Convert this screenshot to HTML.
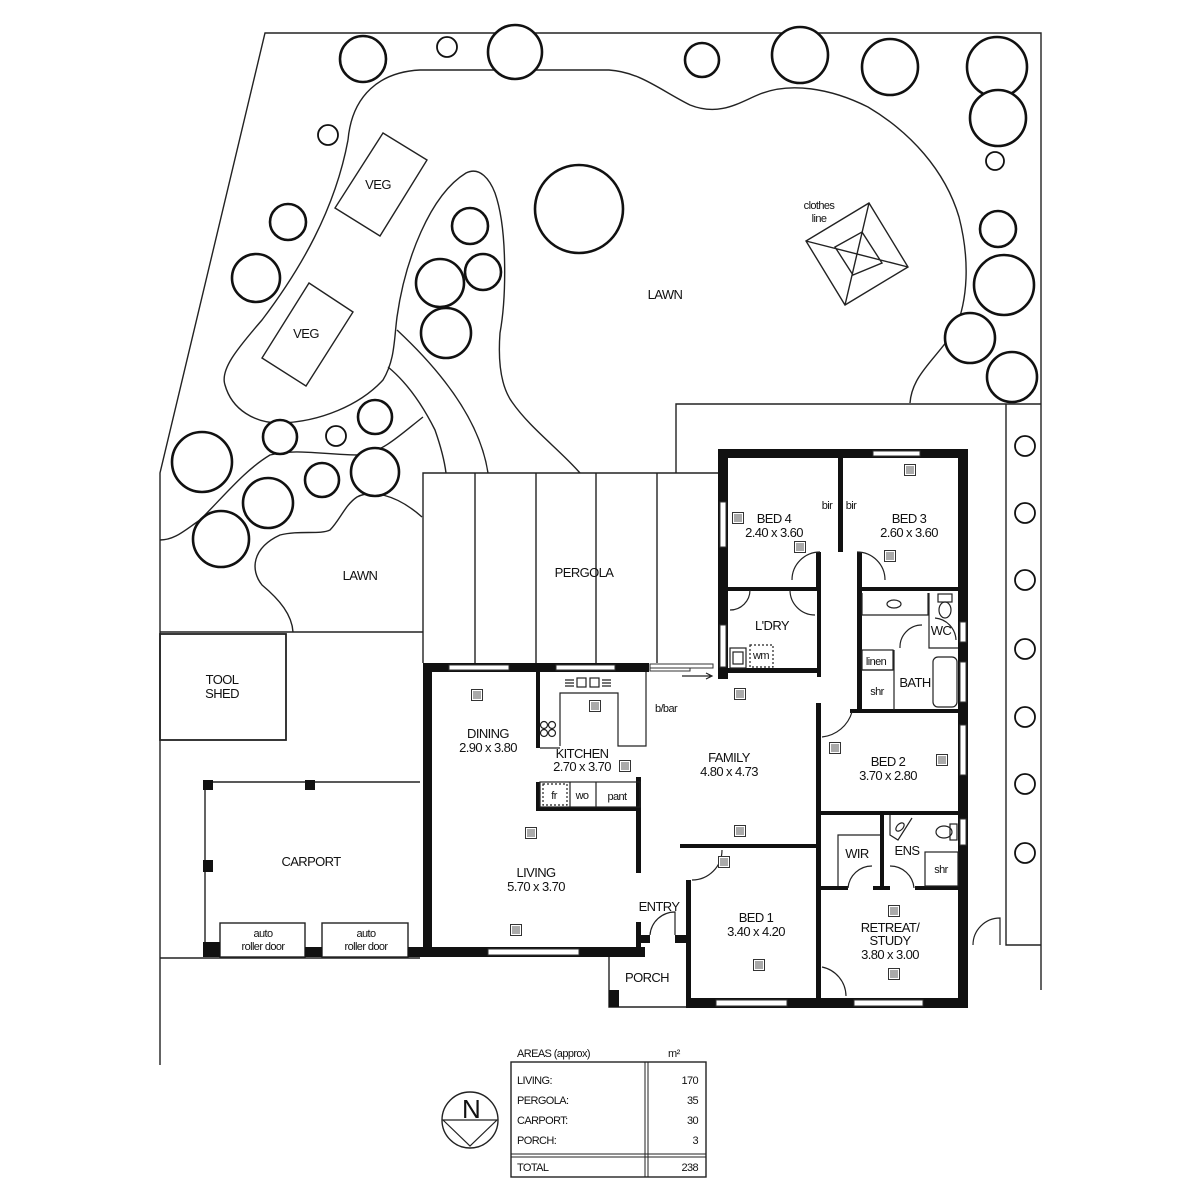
<!DOCTYPE html>
<html><head><meta charset="utf-8"><style>
html,body{margin:0;padding:0;background:#fff;}
svg{display:block;}
text{font-family:"Liberation Sans",sans-serif;font-size:13px;fill:#111;letter-spacing:-0.6px;}
.s{font-size:11px;}
</style></head><body>
<svg width="1200" height="1200" viewBox="0 0 1200 1200" xmlns="http://www.w3.org/2000/svg">
<defs>
<symbol id="v" viewBox="0 0 12 12"><rect x="0.5" y="0.5" width="11" height="11" fill="#fff" stroke="#333"/><path d="M2 3h8M2 5h8M2 7h8M2 9h8" stroke="#555" stroke-width="1"/></symbol>
</defs>
<g fill="none" stroke="#222" stroke-width="1.4">
<!-- property boundary -->
<path d="M160,1065 L160,473 L265,33 L1041,33 L1041,990"/>
<path d="M676,473 L676,404 L1041,404"/>
<path d="M1006,404 L1006,945 L1041,945"/>
<path d="M160,632 L423,632"/>
<path d="M160,958 L420,958"/>
<!-- lawn curves -->
<path d="M348,140 C352,95 380,72 420,70 L609,70 C640,72 660,90 690,105 C720,117 740,102 760,94 C790,82 830,88 868,107 C910,132 945,170 959,217 C970,260 968,300 955,330 C935,360 912,375 910,403"/>
<path d="M348,140 C335,210 300,270 262,320 C236,350 220,370 225,385 C232,410 255,423 280,423 C320,422 360,405 383,380 C395,360 394,340 397,317 C405,260 430,195 466,173 C480,166 490,180 495,193 C508,230 506,300 500,333 C498,360 500,385 512,402 C530,428 560,450 580,473"/>
<path d="M397,330 C440,370 480,420 488,473"/>
<path d="M388,367 C410,385 425,410 435,430 C442,450 445,465 446,473"/>
<path d="M160,540 C175,540 185,530 200,520 C225,495 245,470 270,455 C300,448 320,455 363,455 C385,450 400,435 423,417"/>
<path d="M293,632 C292,615 280,600 262,585 C250,570 252,548 280,535 C300,530 320,535 330,530 C340,520 345,505 357,497 C370,490 395,493 422,517"/>
<!-- veg -->
<path d="M383,133 L427,160 L380,236 L335,208 Z"/>
<path d="M309,283 L353,312 L306,386 L262,358 Z"/>
<!-- clothes line -->
<path d="M869,203 L908,267 L845,305 L806,241 Z M862,232 L882,263 L853,275 L835,247 Z M806,241 L908,267 M869,203 L845,305"/>
<!-- pergola -->
<path d="M423,663 L423,473 L718,473 M475,473 L475,663 M536,473 L536,663 M596,473 L596,663 M657,473 L657,663"/>
<!-- tool shed -->
<rect x="160" y="634" width="126" height="106" stroke-width="1.8"/>
<!-- carport -->
<path d="M205,957 L205,782 L420,782" />
<rect x="220" y="923" width="85" height="34"/>
<rect x="322" y="923" width="86" height="34"/>
<!-- porch -->
<path d="M609,957 L609,1007 L686,1007"/>
</g>
<!-- trees -->
<g fill="#fff" stroke="#111" stroke-width="2.6">
<circle cx="363" cy="59" r="23"/><circle cx="447" cy="47" r="10" stroke-width="1.8"/><circle cx="515" cy="52" r="27"/>
<circle cx="702" cy="60" r="17"/><circle cx="800" cy="55" r="28"/><circle cx="890" cy="67" r="28"/>
<circle cx="997" cy="67" r="30"/><circle cx="998" cy="118" r="28"/><circle cx="995" cy="161" r="9" stroke-width="1.8"/>
<circle cx="328" cy="135" r="10" stroke-width="1.8"/><circle cx="288" cy="222" r="18"/><circle cx="256" cy="278" r="24"/>
<circle cx="579" cy="209" r="44"/><circle cx="470" cy="226" r="18"/><circle cx="440" cy="283" r="24"/>
<circle cx="483" cy="272" r="18"/><circle cx="446" cy="333" r="25"/>
<circle cx="998" cy="229" r="18"/><circle cx="1004" cy="285" r="30"/><circle cx="970" cy="338" r="25"/><circle cx="1012" cy="377" r="25"/>
<circle cx="202" cy="462" r="30"/><circle cx="280" cy="437" r="17"/><circle cx="336" cy="436" r="10" stroke-width="1.8"/>
<circle cx="375" cy="417" r="17"/><circle cx="375" cy="472" r="24"/><circle cx="322" cy="480" r="17"/>
<circle cx="268" cy="503" r="25"/><circle cx="221" cy="539" r="28"/>
<g stroke-width="1.8"><circle cx="1025" cy="446" r="10"/><circle cx="1025" cy="513" r="10"/><circle cx="1025" cy="580" r="10"/><circle cx="1025" cy="649" r="10"/><circle cx="1025" cy="717" r="10"/><circle cx="1025" cy="784" r="10"/><circle cx="1025" cy="853" r="10"/></g>
</g>
<!-- thick walls -->
<g fill="#111">
<rect x="423" y="663" width="9" height="294"/>
<rect x="423" y="663" width="226" height="9"/>
<rect x="423" y="947" width="222" height="10"/>
<rect x="536" y="672" width="4" height="76"/>
<rect x="636" y="777" width="5" height="96"/>
<rect x="636" y="922" width="5" height="35"/>
<rect x="536" y="782" width="4" height="29"/><rect x="536" y="807" width="104" height="4"/>
<rect x="718" y="449" width="250" height="9"/>
<rect x="718" y="449" width="10" height="230"/>
<rect x="958" y="449" width="10" height="559"/>
<rect x="718" y="587" width="102" height="4"/><rect x="858" y="587" width="100" height="4"/>
<rect x="838" y="458" width="5" height="94"/>
<rect x="816" y="552" width="5" height="38"/><rect x="857" y="552" width="5" height="38"/>
<rect x="718" y="668" width="102" height="5"/>
<rect x="817" y="590" width="4" height="87"/>
<rect x="857" y="590" width="5" height="122"/>
<rect x="850" y="709" width="108" height="4"/>
<rect x="816" y="703" width="5" height="305"/>
<rect x="820" y="811" width="138" height="4"/>
<rect x="880" y="815" width="4" height="75"/>
<rect x="820" y="886" width="28" height="4"/><rect x="873" y="886" width="17" height="4"/><rect x="915" y="886" width="43" height="4"/>
<rect x="680" y="844" width="137" height="4"/>
<rect x="686" y="880" width="5" height="128"/>
<rect x="686" y="998" width="282" height="10"/>
<rect x="675" y="935" width="16" height="8"/>
<rect x="636" y="935" width="14" height="8"/>
<rect x="609" y="990" width="10" height="17"/>
<rect x="203" y="780" width="10" height="10"/><rect x="305" y="780" width="10" height="10"/><rect x="203" y="860" width="10" height="12"/>
<rect x="203" y="942" width="17" height="15"/><rect x="305" y="947" width="17" height="10"/><rect x="408" y="947" width="15" height="10"/>
</g>
<!-- windows (white gaps) -->
<g fill="#fff" stroke="#333" stroke-width="1">
<rect x="449" y="665" width="60" height="5"/><rect x="556" y="665" width="59" height="5"/>
<rect x="488" y="949" width="91" height="6"/>
<rect x="873" y="451" width="47" height="5"/>
<rect x="720" y="502" width="6" height="45"/>
<rect x="960" y="622" width="6" height="20"/><rect x="960" y="662" width="6" height="40"/><rect x="960" y="725" width="6" height="50"/><rect x="960" y="819" width="6" height="26"/>
<rect x="716" y="1000" width="71" height="6"/><rect x="854" y="1000" width="69" height="6"/>
<rect x="720" y="625" width="6" height="42"/>
<rect x="650" y="664" width="63" height="4"/><rect x="650" y="668" width="40" height="3"/>
</g>
<!-- fixtures -->
<g fill="none" stroke="#222" stroke-width="1.2">
<path d="M560,746 L560,693 L618,693 L618,746 L646,746 L646,672"/>
<path d="M540,748 L560,748"/>
<rect x="540" y="782" width="100" height="25"/><path d="M570,782v25M596,782v25"/>
<rect x="543" y="784" width="24" height="21" stroke-dasharray="2,2"/>
<circle cx="544" cy="725" r="3.5"/><circle cx="552" cy="725" r="3.5"/><circle cx="544" cy="733" r="3.5"/><circle cx="552" cy="733" r="3.5"/>
<rect x="577" y="678" width="9" height="9"/><rect x="590" y="678" width="9" height="9"/>
<path d="M565,680h9M565,683h9M565,686h9M602,680h9M602,683h9M602,686h9"/>
<rect x="730" y="648" width="16" height="20"/><rect x="733" y="652" width="10" height="12"/>
<rect x="750" y="645" width="23" height="22" stroke-dasharray="2,2"/>
<path d="M862,593 L862,615 L928,615 L928,593"/><ellipse cx="894" cy="604" rx="7" ry="4"/>
<path d="M929,593 L929,648 L958,648"/><ellipse cx="945" cy="610" rx="6" ry="8"/><rect x="938" y="594" width="14" height="8"/>
<rect x="862" y="650" width="31" height="20"/><path d="M862,670 L893,670 M894,650 L894,710"/>
<rect x="933" y="657" width="24" height="50" rx="5"/>
<path d="M838,886 L838,835 L880,835"/>
<rect x="925" y="852" width="33" height="34"/>
<path d="M890,815 L890,835 L898,840 L912,818"/><ellipse cx="900" cy="827" rx="5" ry="3" transform="rotate(-45 900 827)"/>
<ellipse cx="944" cy="832" rx="8" ry="6"/><rect x="950" y="824" width="7" height="16"/>
<!-- door arcs -->
<path d="M792,580 A28,28 0 0 1 820,552"/><path d="M857,552 A28,28 0 0 1 885,580"/>
<path d="M730,610 A20,20 0 0 0 750,590"/><path d="M790,590 A25,25 0 0 0 815,615"/>
<path d="M900,648 A22,22 0 0 1 922,625"/><path d="M935,618 A23,23 0 0 1 956,640"/>
<path d="M822,737 A35,35 0 0 0 852,712"/>
<path d="M848,888 A24,24 0 0 1 872,866"/><path d="M890,866 A24,24 0 0 1 914,888"/>
<path d="M822,967 A30,30 0 0 1 846,996"/>
<path d="M692,880 A30,30 0 0 0 722,850"/>
<path d="M650,935 A25,25 0 0 1 675,912 L675,935"/>
<path d="M973,945 A27,27 0 0 1 1000,918 L1000,945"/>
<path d="M682,676 L712,676 M706,673 L712,676 L706,679"/>
</g>
<!-- compass & table -->
<g fill="none" stroke="#222" stroke-width="1.4">
<circle cx="470" cy="1120" r="28"/>
<path d="M443,1120 L497,1120 L470,1146 Z" stroke-width="1.2"/>
<rect x="511" y="1062" width="195" height="115"/>
<path d="M645,1062v115M648,1062v115M511,1154h195M511,1157h195" stroke-width="1"/>
</g>
<text x="462" y="1118" style="font-size:26px">N</text>
<text x="517" y="1057" class="s">AREAS (approx)</text>
<text x="668" y="1057" class="s">m²</text>
<g class="s">
<text x="517" y="1084" class="s">LIVING:</text><text x="698" y="1084" class="s" text-anchor="end">170</text>
<text x="517" y="1104" class="s">PERGOLA:</text><text x="698" y="1104" class="s" text-anchor="end">35</text>
<text x="517" y="1124" class="s">CARPORT:</text><text x="698" y="1124" class="s" text-anchor="end">30</text>
<text x="517" y="1144" class="s">PORCH:</text><text x="698" y="1144" class="s" text-anchor="end">3</text>
<text x="517" y="1171" class="s">TOTAL</text><text x="698" y="1171" class="s" text-anchor="end">238</text>
</g>
<!-- vents -->
<g>
<use href="#v" x="471" y="689" width="12" height="12"/><use href="#v" x="589" y="700" width="12" height="12"/>
<use href="#v" x="619" y="760" width="12" height="12"/><use href="#v" x="734" y="688" width="12" height="12"/>
<use href="#v" x="734" y="825" width="12" height="12"/><use href="#v" x="525" y="827" width="12" height="12"/>
<use href="#v" x="510" y="924" width="12" height="12"/><use href="#v" x="732" y="512" width="12" height="12"/>
<use href="#v" x="794" y="541" width="12" height="12"/><use href="#v" x="904" y="464" width="12" height="12"/>
<use href="#v" x="884" y="550" width="12" height="12"/><use href="#v" x="829" y="742" width="12" height="12"/>
<use href="#v" x="936" y="754" width="12" height="12"/><use href="#v" x="718" y="856" width="12" height="12"/>
<use href="#v" x="753" y="959" width="12" height="12"/><use href="#v" x="888" y="905" width="12" height="12"/>
<use href="#v" x="888" y="968" width="12" height="12"/>
</g>
<!-- labels -->
<g text-anchor="middle">
<text x="378" y="189">VEG</text><text x="306" y="338">VEG</text>
<text x="665" y="299">LAWN</text><text x="360" y="580">LAWN</text>
<text x="819" y="209" class="s">clothes</text><text x="819" y="222" class="s">line</text>
<text x="584" y="577">PERGOLA</text>
<text x="222" y="684">TOOL</text><text x="222" y="698">SHED</text>
<text x="311" y="866">CARPORT</text>
<text x="263" y="937" class="s">auto</text><text x="263" y="950" class="s">roller door</text>
<text x="366" y="937" class="s">auto</text><text x="366" y="950" class="s">roller door</text>
<text x="774" y="523">BED 4</text><text x="774" y="537">2.40 x 3.60</text>
<text x="909" y="523">BED 3</text><text x="909" y="537">2.60 x 3.60</text>
<text x="827" y="509" class="s">bir</text><text x="851" y="509" class="s">bir</text>
<text x="772" y="630">L'DRY</text>
<text x="761" y="659" class="s">wm</text>
<text x="941" y="635">WC</text>
<text x="876" y="665" class="s">linen</text><text x="877" y="695" class="s">shr</text>
<text x="915" y="687">BATH</text>
<text x="666" y="712" class="s">b/bar</text>
<text x="488" y="738">DINING</text><text x="488" y="752">2.90 x 3.80</text>
<text x="582" y="758">KITCHEN</text><text x="582" y="771">2.70 x 3.70</text>
<text x="729" y="762">FAMILY</text><text x="729" y="776">4.80 x 4.73</text>
<text x="888" y="766">BED 2</text><text x="888" y="780">3.70 x 2.80</text>
<text x="554" y="799" class="s">fr</text><text x="582" y="799" class="s">wo</text><text x="617" y="800" class="s">pant</text>
<text x="857" y="858">WIR</text><text x="907" y="855">ENS</text><text x="941" y="873" class="s">shr</text>
<text x="536" y="877">LIVING</text><text x="536" y="891">5.70 x 3.70</text>
<text x="659" y="911">ENTRY</text>
<text x="756" y="922">BED 1</text><text x="756" y="936">3.40 x 4.20</text>
<text x="890" y="932">RETREAT/</text><text x="890" y="945">STUDY</text><text x="890" y="959">3.80 x 3.00</text>
<text x="647" y="982">PORCH</text>
</g>
</svg>
</body></html>
